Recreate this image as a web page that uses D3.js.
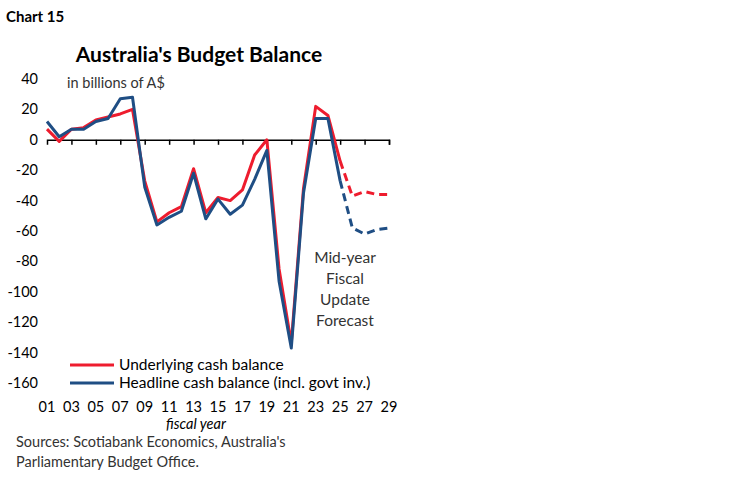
<!DOCTYPE html>
<html>
<head>
<meta charset="utf-8">
<script src="https://d3js.org/d3.v7.min.js"></script>
<style>body{margin:0;background:#fff;font-family:Lato,"Open Sans",sans-serif;}</style>
</head>
<body>
<svg id="chart" width="748" height="483"></svg>
<script>
var years = d3.range(2001, 2030);
var tickLabels = ["01","03","05","07","09","11","13","15","17","19","21","23","25","27","29"];
var underlying = [7,-1,7,8,13,15,17,20,-27,-54,-48,-44,-19,-48,-38,-40,-33,-10,0,-85,-134,-32,22,16,-14,-37,-34,-36,-36];
var headline = [12,2,7,7,12,14,27,28,-31,-56,-51,-47,-22,-52,-39,-49,-43,-26,-7,-93,-137,-35,14,14,-27,-58,-62,-59,-58];
var lastActual = 2025;
var yTicks = [40,20,0,-20,-40,-60,-80,-100,-120,-140,-160];

var svg = d3.select("#chart");
var x = d3.scaleLinear().domain([2001, 2029]).range([47, 389]);
var y = d3.scaleLinear().domain([-160, 40]).range([383, 79]);

svg.append("text").attr("x", 6).attr("y", 22).attr("font-weight", "bold").attr("font-size", 15).text("Chart 15");
svg.append("text").attr("x", 199).attr("y", 62).attr("text-anchor", "middle").attr("font-weight", "bold").attr("font-size", 21).text("Australia's Budget Balance");
svg.append("text").attr("x", 67).attr("y", 88).attr("font-size", 14.5).attr("fill", "#333").text("in billions of A$");

// y labels
svg.selectAll(".yl").data(yTicks).enter().append("text")
  .attr("x", 38).attr("y", function(d){ return y(d) + 5; })
  .attr("text-anchor", "end").attr("font-size", 14.5).text(function(d){ return d; });

// zero axis with ticks
var axis = svg.append("g").attr("transform", "translate(0," + y(0) + ")")
  .call(d3.axisBottom(x).tickValues(d3.range(2003, 2030, 2)).tickSize(5).tickFormat(""));
axis.select(".domain").attr("stroke", "#000").attr("stroke-width", 1.5);
axis.selectAll(".tick line").attr("stroke", "#000").attr("stroke-width", 1.5);

// x labels
svg.selectAll(".xl").data(tickLabels).enter().append("text")
  .attr("x", function(d, i){ return x(2001 + 2 * i); }).attr("y", 412)
  .attr("text-anchor", "middle").attr("font-size", 14.5).text(function(d){ return d; });
svg.append("text").attr("x", 196).attr("y", 429).attr("text-anchor", "middle").attr("font-size", 14.5).attr("font-style", "italic").text("fiscal year");

var line = d3.line().x(function(d){ return x(d[0]); }).y(function(d){ return y(d[1]); });
function draw(vals, color) {
  var pts = years.map(function(yr, i){ return [yr, vals[i]]; });
  svg.append("path").attr("d", line(pts.filter(function(p){ return p[0] <= lastActual; })))
    .attr("fill", "none").attr("stroke", color).attr("stroke-width", 3).attr("stroke-linejoin", "round");
  svg.append("path").attr("d", line(pts.filter(function(p){ return p[0] >= lastActual; })))
    .attr("fill", "none").attr("stroke", color).attr("stroke-width", 3).attr("stroke-dasharray", "8,5");
}
draw(underlying, "#ee1c2e");
draw(headline, "#1f4e84");

["Mid-year", "Fiscal", "Update", "Forecast"].forEach(function(t, i){
  svg.append("text").attr("x", 345).attr("y", 263 + i * 21).attr("text-anchor", "middle").attr("font-size", 15.5).attr("fill", "#333").text(t);
});

var legend = [["Underlying cash balance", "#ee1c2e"], ["Headline cash balance (incl. govt inv.)", "#1f4e84"]];
legend.forEach(function(l, i){
  var yy = 365 + i * 18;
  svg.append("line").attr("x1", 70).attr("x2", 114).attr("y1", yy).attr("y2", yy).attr("stroke", l[1]).attr("stroke-width", 3);
  svg.append("text").attr("x", 119).attr("y", yy + 5).attr("font-size", 15.5).text(l[0]);
});

svg.append("text").attr("x", 16).attr("y", 447).attr("font-size", 14.5).attr("fill", "#333").text("Sources: Scotiabank Economics, Australia's");
svg.append("text").attr("x", 16).attr("y", 467).attr("font-size", 14.5).attr("fill", "#333").text("Parliamentary Budget Office.");
</script>
</body>
</html>
